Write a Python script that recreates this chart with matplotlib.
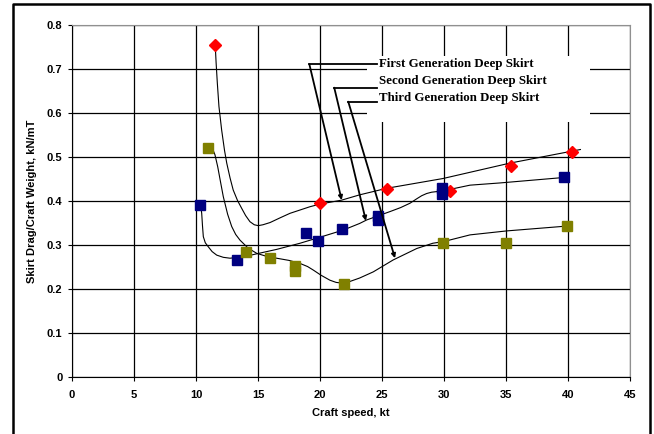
import matplotlib
matplotlib.use("Agg")
import matplotlib.pyplot as plt
from matplotlib.lines import Line2D
from matplotlib.patches import Rectangle

# --- measured points ---
first_x = [11.55, 20.0, 25.4, 30.5, 35.4, 40.3]
first_y = [0.755, 0.395, 0.427, 0.423, 0.480, 0.512]

second_x = [10.3, 13.3, 18.9, 19.8, 21.75, 24.68, 24.68, 29.8, 29.8, 39.7]
second_y = [0.391, 0.266, 0.327, 0.310, 0.336, 0.367, 0.357, 0.430, 0.416, 0.454]

third_x = [10.94, 14.0, 15.97, 18.0, 18.0, 21.9, 29.95, 35.0, 39.9]
third_y = [0.521, 0.285, 0.270, 0.253, 0.240, 0.211, 0.304, 0.305, 0.343]

# --- fitted curves ---
fit1_x = [11.55, 11.62, 11.72, 11.85, 12.07, 12.3, 12.48, 12.75, 13.0, 13.35, 13.69,
          14.0, 14.35, 14.7, 15.02, 15.4, 15.97, 16.8, 17.58, 19.19, 20.0, 21.75,
          23.2, 25.4, 29.9, 35.3, 41.0]
fit1_y = [0.755, 0.715, 0.668, 0.615, 0.561, 0.515, 0.486, 0.452, 0.425, 0.401, 0.383,
          0.367, 0.353, 0.346, 0.344, 0.346, 0.351, 0.362, 0.372, 0.387, 0.393, 0.402,
          0.414, 0.429, 0.451, 0.486, 0.517]

fit2_x = [10.3, 10.4, 10.46, 10.52, 10.59, 10.75, 10.99, 11.3, 11.67, 12.2, 12.74,
          13.81, 14.9, 16.5, 18.39, 20.27, 21.88, 23.2, 23.77, 25.65, 26.5, 27.26,
          27.8, 28.2, 28.6, 29.0, 29.9, 32.1, 34.5, 39.9]
fit2_y = [0.391, 0.385, 0.372, 0.345, 0.319, 0.305, 0.296, 0.285, 0.277, 0.272, 0.270,
          0.273, 0.280, 0.290, 0.304, 0.320, 0.334, 0.349, 0.357, 0.376, 0.385, 0.395,
          0.405, 0.412, 0.417, 0.420, 0.423, 0.436, 0.441, 0.454]

fit3_x = [10.94, 11.2, 11.4, 11.53, 11.75, 12.0, 12.2, 12.55, 12.88, 13.2, 13.55,
          14.2, 14.9, 15.6, 16.5, 17.5, 18.4, 19.0, 19.46, 20.1, 20.8, 21.3, 21.88,
          22.3, 23.2, 24.3, 25.9, 27.8, 29.1, 30.0, 32.1, 35.05, 39.9]
fit3_y = [0.521, 0.519, 0.514, 0.505, 0.478, 0.440, 0.410, 0.370, 0.342, 0.324, 0.311,
          0.293, 0.281, 0.275, 0.270, 0.265, 0.258, 0.251, 0.243, 0.231, 0.220, 0.215,
          0.213, 0.216, 0.225, 0.239, 0.266, 0.292, 0.304, 0.308, 0.323, 0.332, 0.343]

labels = ["First Generation Deep Skirt", "Second Generation Deep Skirt",
          "Third Generation Deep Skirt"]
label_y = [0.711, 0.673, 0.635]
corner_x = [19.14, 21.15, 22.28]
corner_y = [0.711, 0.6575, 0.6257]
tip_x = [21.75, 23.7, 26.05]
tip_y = [0.402, 0.355, 0.270]

plt.rcParams['font.family'] = ['Liberation Sans', 'DejaVu Sans']

fig = plt.figure(figsize=(6.54, 4.34), dpi=100)
ax = fig.add_axes([72 / 654, 1 - 377 / 434, (630 - 72) / 654, (377 - 25) / 434])

# outer frame
fig.add_artist(Line2D([13 / 654, 13 / 654, 650 / 654, 650 / 654],
                      [0, 1 - 4 / 434, 1 - 4 / 434, 0],
                      transform=fig.transFigure, color='black', lw=1.8))

ax.set_xlim(0, 45)
ax.set_ylim(0, 0.8)
ax.set_xticks(range(0, 46, 5))
ax.set_yticks([0, 0.1, 0.2, 0.3, 0.4, 0.5, 0.6, 0.7, 0.8])
ax.set_yticklabels(["0", "0.1", "0.2", "0.3", "0.4", "0.5", "0.6", "0.7", "0.8"])
ax.grid(True, color='black', lw=0.9)
ax.set_axisbelow(True)
ax.tick_params(direction='out', length=3, width=0.8, labelsize=8, pad=4)
ax.tick_params(axis='x', pad=6)
for lab in ax.get_xticklabels() + ax.get_yticklabels():
    lab.set_fontweight('bold')
ax.spines['left'].set_color('black')
ax.spines['bottom'].set_color('black')
ax.spines['top'].set_color('#909090')
ax.spines['right'].set_color('#909090')

ax.set_xlabel("Craft speed, kt", fontsize=8, fontweight='bold', labelpad=6)
ax.set_ylabel("Skirt Drag/Craft Weight, kN/mT", fontsize=8, fontweight='bold', labelpad=7)

# white box behind the labels
ax.add_patch(Rectangle((23.79, 0.580), 41.77 - 23.79, 0.730 - 0.580,
                       facecolor='white', edgecolor='none', zorder=1))

ax.plot(fit1_x, fit1_y, color='black', lw=0.8, zorder=2)
ax.plot(fit2_x, fit2_y, color='black', lw=0.8, zorder=2)
ax.plot(fit3_x, fit3_y, color='black', lw=0.8, zorder=2)

ax.plot(first_x, first_y, 'D', color='#FF0000', ms=6.5, zorder=3, ls='none')
ax.plot(second_x, second_y, 's', color='#000080', ms=7, zorder=3, ls='none')
ax.plot(third_x, third_y, 's', color='#808000', ms=7, zorder=3, ls='none')

for i in range(3):
    ax.plot([corner_x[i], 24.57], [corner_y[i], corner_y[i]], color='black', lw=1.3, zorder=4)
    ax.annotate("", xy=(tip_x[i], tip_y[i]), xytext=(corner_x[i], corner_y[i]),
                arrowprops=dict(arrowstyle='-|>', color='black', lw=1.3,
                                mutation_scale=6, shrinkA=0, shrinkB=0), zorder=4)
    ax.text(24.76, label_y[i], labels[i], fontsize=9.3, fontweight='bold',
            family='Liberation Serif', va='center', ha='left', zorder=4)

fig.savefig("out.png", dpi=100)
